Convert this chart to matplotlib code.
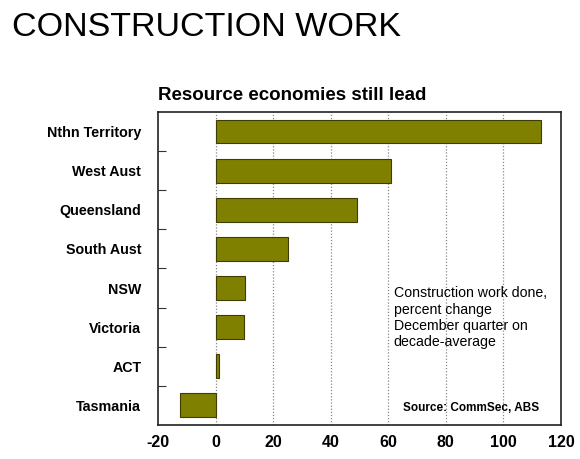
import matplotlib
matplotlib.use("Agg")
import matplotlib.pyplot as plt
import numpy as np

categories = ["Nthn Territory", "West Aust", "Queensland", "South Aust", "NSW", "Victoria", "ACT", "Tasmania"]
values = [113.0, 61.0, 49.2, 25.2, 10.3, 10.0, 1.3, -12.3]
xticks = [-20, 0, 20, 40, 60, 80, 100, 120]

plt.rcParams['font.family'] = ['Liberation Sans', 'DejaVu Sans']

fig = plt.figure(figsize=(5.8, 4.59), dpi=100)
ax = fig.add_axes([0.2724, 0.0741, 0.6948, 0.682])

y = np.arange(len(categories))
ax.barh(y, values, height=0.61, color="#808000", edgecolor="#3d3d00", linewidth=0.8, zorder=3)
ax.set_ylim(len(categories) - 0.5, -0.5)
ax.set_xlim(-20, 120)
ax.set_xticks(xticks)
ax.set_xticklabels([str(t) for t in xticks], fontweight="bold", fontsize=11.5)
ax.tick_params(axis="x", length=0, pad=7)

ax.set_yticks(y)
ax.set_yticklabels(categories, fontweight="bold", fontsize=10.3)
ax.tick_params(axis="y", length=0, pad=12)
ax.set_yticks(np.arange(len(categories) - 1) + 0.5, minor=True)
ax.tick_params(axis="y", which="minor", direction="in", length=6, width=0.8, color="#333333")

for t in [0, 20, 40, 60, 80, 100]:
    ax.axvline(t, color="#888888", linestyle=(0, (1, 1.5)), linewidth=0.9, zorder=1)

for s in ax.spines.values():
    s.set_linewidth(1.2)
    s.set_color("#222222")

ax.text(0.585, 0.443, "Construction work done,\npercent change\nDecember quarter on\ndecade-average",
        transform=ax.transAxes, fontsize=10.2, va="top", ha="left", linespacing=1.2)
ax.text(0.945, 0.054, "Source: CommSec, ABS", transform=ax.transAxes, fontsize=8.5,
        fontweight="bold", ha="right", va="center")

fig.text(0.021, 0.922, "CONSTRUCTION WORK", fontsize=24.5, ha="left", va="baseline")
fig.text(0.2724, 0.782, "Resource economies still lead", fontsize=13.5, fontweight="bold",
         ha="left", va="baseline")

fig.savefig("out.png", dpi=100)
